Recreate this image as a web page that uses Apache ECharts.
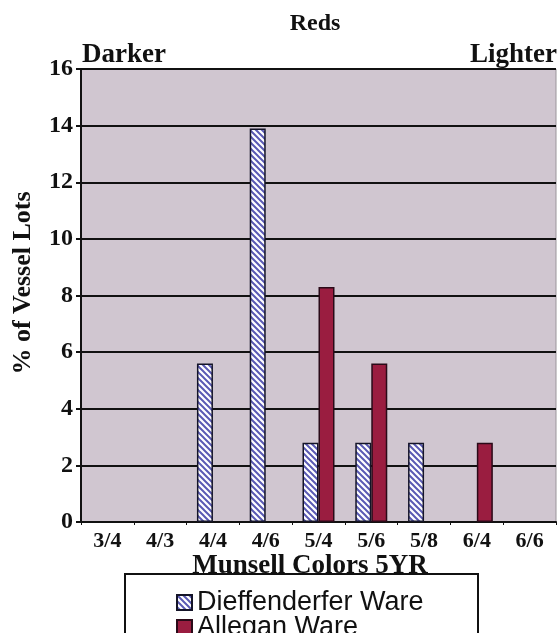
<!DOCTYPE html>
<html><head><meta charset="utf-8">
<script src="https://cdn.jsdelivr.net/npm/echarts@6/dist/echarts.min.js"></script>
<style>html,body{margin:0;padding:0;background:#fff}#c{width:559px;height:633px}</style>
</head><body><div id="c"></div>
<script>
const categories = ['3/4','4/3','4/4','4/6','5/4','5/6','5/8','6/4','6/6'];
const dieffenderfer = [null,null,5.6,13.9,2.8,2.8,2.8,null,null];
const allegan = [null,null,null,null,8.3,5.6,null,2.8,null];
const yMin = 0, yMax = 16, yStep = 2;

const pc = document.createElement('canvas'); pc.width = 6; pc.height = 6;
const g = pc.getContext('2d');
g.fillStyle = '#ffffff'; g.fillRect(0,0,6,6);
g.strokeStyle = '#5a5ab4'; g.lineWidth = 2;
g.beginPath();
g.moveTo(-1,-1); g.lineTo(7,7);
g.moveTo(-1,5); g.lineTo(1,7);
g.moveTo(5,-1); g.lineTo(7,1);
g.stroke();

const serif = '"Liberation Serif", "DejaVu Serif", serif';
const chart = echarts.init(document.getElementById('c'), null, {renderer:'canvas'});
chart.setOption({
  animation: false,
  backgroundColor: '#ffffff',
  grid: {left: 81, right: 3, top: 69, bottom: 111, show: true, outerBoundsMode: 'none', containLabel: false,
         backgroundColor: '#d0c6d0', borderColor: '#9a949a', borderWidth: 1},
  graphic: [
    {type:'text', x: 315, y: 24, style:{text:'Reds', font:'bold 24px ' + serif, fill:'#111', align:'center', verticalAlign:'middle'}},
    {type:'text', x: 82, y: 55, style:{text:'Darker', font:'bold 27px ' + serif, fill:'#111', align:'left', verticalAlign:'middle'}},
    {type:'text', x: 557, y: 55, style:{text:'Lighter', font:'bold 27px ' + serif, fill:'#111', align:'right', verticalAlign:'middle'}},
    {type:'text', x: 23, y: 283, rotation: Math.PI / 2, style:{text:'% of Vessel Lots', font:'bold 26px ' + serif, fill:'#111', align:'center', verticalAlign:'middle'}},
    {type:'text', x: 310, y: 566, z: 1, style:{text:'Munsell Colors 5YR', font:'bold 27px ' + serif, fill:'#111', align:'center', verticalAlign:'middle'}},
    {type:'rect', z: 2, shape:{x:125, y:574, width:353, height:70}, style:{fill:'#ffffff', stroke:'#111', lineWidth:2}}
  ],
  legend: {
    orient: 'vertical', left: 176, top: 589, height: 80, padding: 0, itemGap: -2,
    itemWidth: 15, itemHeight: 15, z: 5, icon: 'rect',
    textStyle: {fontFamily: '"Liberation Sans", Arial, sans-serif', fontSize: 27, lineHeight: 23, color: '#111'},
    data: ['Dieffenderfer Ware', 'Allegan Ware']
  },
  xAxis: {
    type: 'category', data: categories,
    axisLine: {show: true, lineStyle: {color: '#111', width: 2}},
    axisTick: {show: true, length: 3, lineStyle: {color: '#111'}},
    axisLabel: {fontFamily: serif, fontWeight: 'bold', fontSize: 22, color: '#111', margin: 8}
  },
  yAxis: {
    type: 'value', min: yMin, max: yMax, interval: yStep,
    axisLine: {show: true, lineStyle: {color: '#111', width: 2}},
    axisTick: {show: true, length: 5, lineStyle: {color: '#111', width: 2}},
    axisLabel: {fontFamily: serif, fontWeight: 'bold', fontSize: 24, color: '#111', margin: 8},
    splitLine: {show: true, lineStyle: {color: '#111', width: 2}}
  },
  series: [
    {name: 'Dieffenderfer Ware', type: 'bar', data: dieffenderfer, barWidth: 16, barGap: '0%',
     itemStyle: {color: {image: pc, repeat: 'repeat'}, borderColor: '#141428', borderWidth: 1.5}},
    {name: 'Allegan Ware', type: 'bar', data: allegan, barWidth: 16, barGap: '0%',
     itemStyle: {color: '#9a1d40', borderColor: '#2a0a18', borderWidth: 1.5}}
  ]
});
</script></body></html>
